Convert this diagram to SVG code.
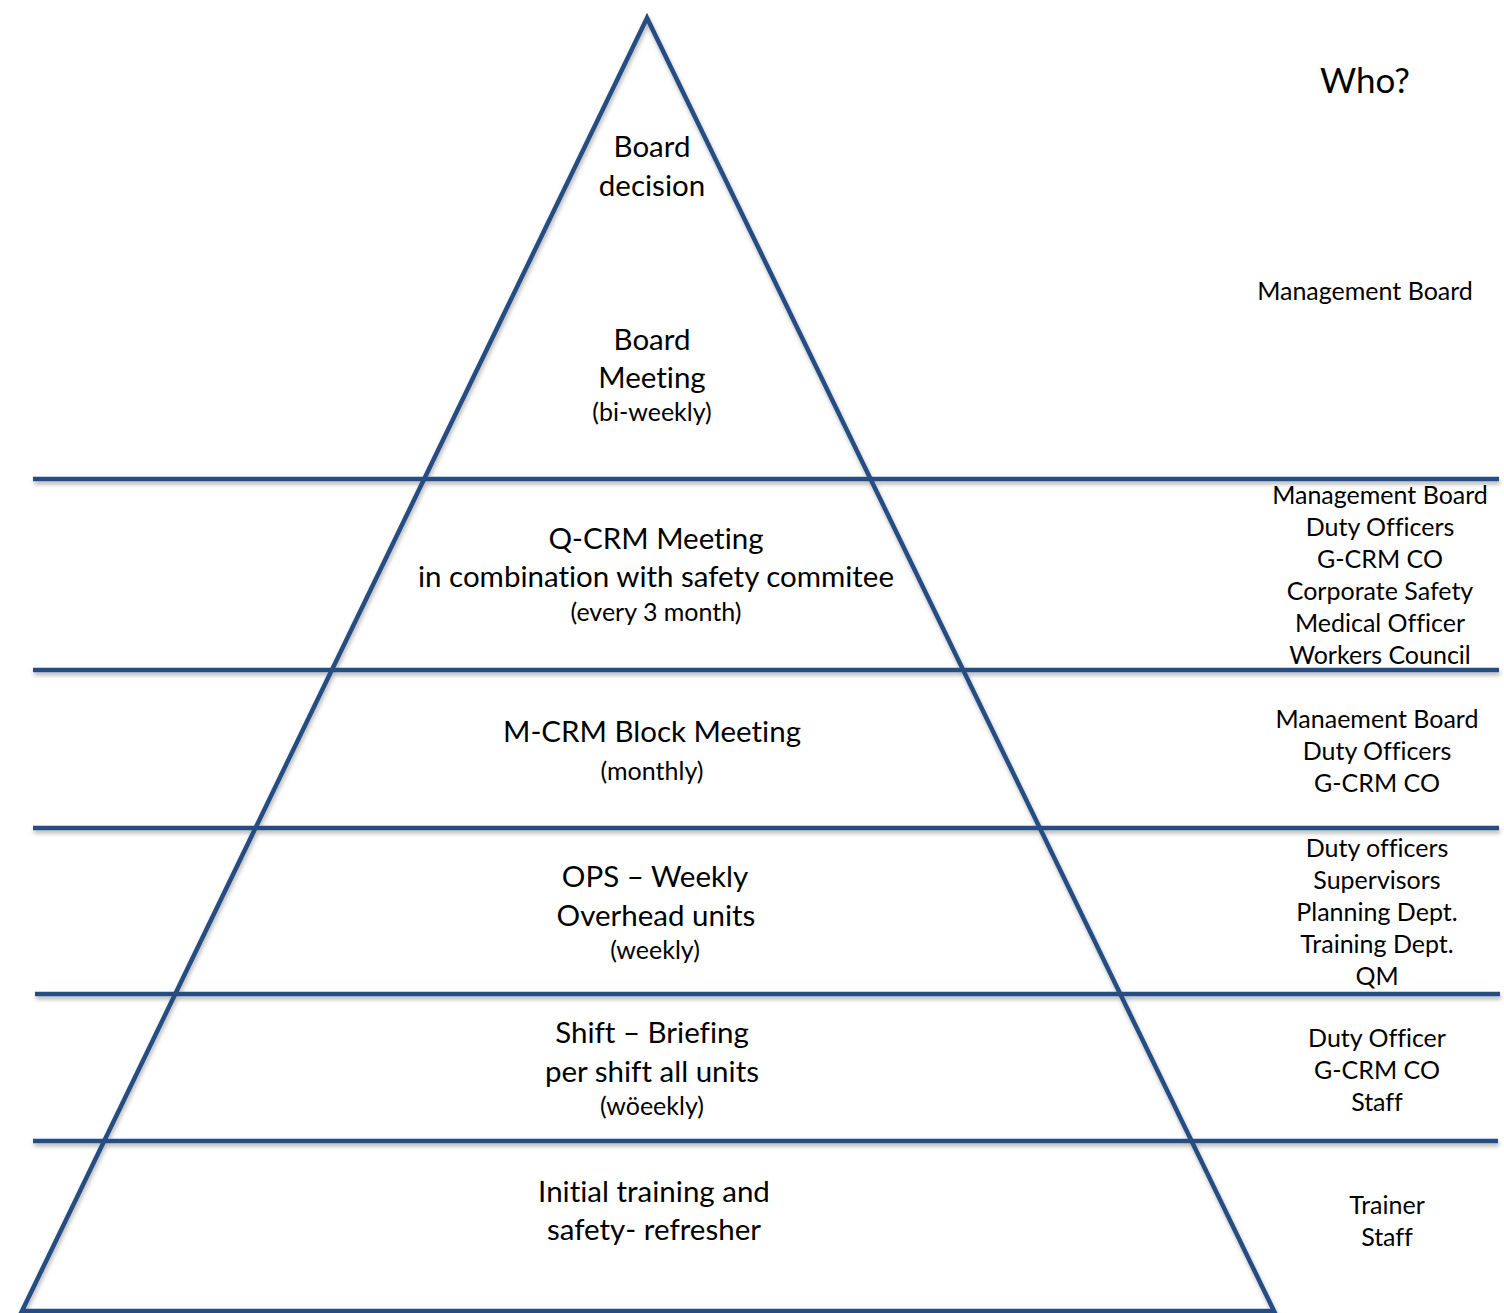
<svg xmlns="http://www.w3.org/2000/svg" width="1504" height="1313" viewBox="0 0 1504 1313">
<defs>
<filter id="sh" x="-5%" y="-5%" width="110%" height="110%">
<feDropShadow dx="1" dy="3" stdDeviation="2" flood-color="#000" flood-opacity="0.3"/>
</filter>
<style>
.ln{stroke:#264e82;stroke-width:4.5;fill:none;stroke-linecap:butt}
.t{font-family:Lato,"Open Sans","Liberation Sans",sans-serif;fill:#000;text-anchor:middle;font-variant-ligatures:none;font-feature-settings:"liga" 0,"clig" 0}
.m{font-size:29.5px}
.s{font-size:25px}
.w{font-size:25px}
.q{font-size:35px}
</style>
</defs>
<rect width="1504" height="1313" fill="#fff"/>
<g id="connectors" filter="url(#sh)">
<polygon class="ln" points="647,18 22,1311 1274,1311" stroke-linejoin="miter"/>
<line class="ln" x1="33" y1="479" x2="1499" y2="479"/>
<line class="ln" x1="33" y1="670" x2="1499" y2="670"/>
<line class="ln" x1="33" y1="828" x2="1499" y2="828"/>
<line class="ln" x1="35" y1="994" x2="1500" y2="994"/>
<line class="ln" x1="33" y1="1141" x2="1498" y2="1141"/>
</g>
<g id="level-board-decision">
<text class="t m" x="652" y="157">Board</text>
<text class="t m" x="652" y="196">decision</text>
</g>
<g id="level-board-meeting">
<text class="t m" x="652" y="350">Board</text>
<text class="t m" x="652" y="388">Meeting</text>
<text class="t s" x="652" y="421">(bi-weekly)</text>
</g>
<g id="level-qcrm">
<text class="t m" x="656" y="549">Q-CRM Meeting</text>
<text class="t m" x="656" y="587">in combination with safety commitee</text>
<text class="t s" x="656" y="621">(every 3 month)</text>
</g>
<g id="level-mcrm">
<text class="t m" x="652" y="742">M-CRM Block Meeting</text>
<text class="t s" x="652" y="780">(monthly)</text>
</g>
<g id="level-ops">
<text class="t m" x="655" y="887">OPS – Weekly</text>
<text class="t m" x="656" y="926">Overhead units</text>
<text class="t s" x="655" y="959">(weekly)</text>
</g>
<g id="level-shift">
<text class="t m" x="652" y="1043">Shift – Briefing</text>
<text class="t m" x="652" y="1082">per shift all units</text>
<text class="t s" x="652" y="1115">(wöeekly)</text>
</g>
<g id="level-initial">
<text class="t m" x="654" y="1202">Initial training and</text>
<text class="t m" x="654" y="1240">safety- refresher</text>
</g>
<g id="who">
<text class="t q" x="1365" y="93">Who?</text>
<text class="t w" x="1365" y="300">Management Board</text>
<text class="t w" x="1380" y="504">Management Board</text>
<text class="t w" x="1380" y="536">Duty Officers</text>
<text class="t w" x="1380" y="568">G-CRM CO</text>
<text class="t w" x="1380" y="600">Corporate Safety</text>
<text class="t w" x="1380" y="632">Medical Officer</text>
<text class="t w" x="1380" y="664">Workers Council</text>
<text class="t w" x="1377" y="728">Manaement Board</text>
<text class="t w" x="1377" y="760">Duty Officers</text>
<text class="t w" x="1377" y="792">G-CRM CO</text>
<text class="t w" x="1377" y="857">Duty officers</text>
<text class="t w" x="1377" y="889">Supervisors</text>
<text class="t w" x="1377" y="921">Planning Dept.</text>
<text class="t w" x="1377" y="953">Training Dept.</text>
<text class="t w" x="1377" y="985">QM</text>
<text class="t w" x="1377" y="1047">Duty Officer</text>
<text class="t w" x="1377" y="1079">G-CRM CO</text>
<text class="t w" x="1377" y="1111">Staff</text>
<text class="t w" x="1387" y="1214">Trainer</text>
<text class="t w" x="1387" y="1246">Staff</text>
</g>
</svg>
